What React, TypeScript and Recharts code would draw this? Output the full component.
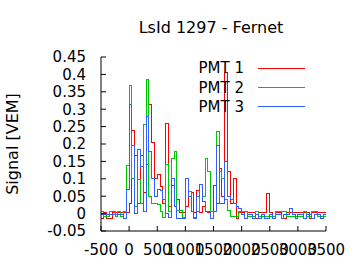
import React from 'react';
import { LineChart, Line, XAxis, YAxis, Legend } from 'recharts';

const chartTitle = 'LsId 1297 - Fernet';
const yAxisTitle = 'Signal [VEM]';
const seriesNames = ['PMT 1', 'PMT 2', 'PMT 3'];
const seriesColors = ['#ff0000', '#00c800', '#2f5fff'];

const xTicks = [-500, 0, 500, 1000, 1500, 2000, 2500, 3000, 3500];
const yTicks = [-0.05, 0, 0.05, 0.1, 0.15, 0.2, 0.25, 0.3, 0.35, 0.4, 0.45];

const binStart = [
  -500, -450, -400, -350, -300, -250, -200, -150, -100, -50,
  0, 50, 100, 150, 200, 250, 300, 350, 400, 450,
  500, 550, 600, 650, 700, 750, 800, 850, 900, 950,
  1000, 1050, 1100, 1150, 1200, 1250, 1300, 1350, 1400, 1450,
  1500, 1550, 1600, 1650, 1700, 1750, 1800, 1850, 1900, 1950,
  2000, 2050, 2100, 2150, 2200, 2250, 2300, 2350, 2400, 2450,
  2500, 2550, 2600, 2650, 2700, 2750, 2800, 2850, 2900, 2950,
  3000, 3050, 3100, 3150, 3200, 3250, 3300, 3350, 3400, 3450,
];
const traceEnd = 3500;

const pmt1 = [
  -0.015, 0.002, -0.015, -0.015, 0.002, 0.002, 0.002, 0.002, 0.002, 0.002,
  0.03, 0.24, 0.168, 0.03, 0.168, 0.06, 0.14, 0.314, 0.204, 0.1,
  0.113, 0.077, 0.03, 0.26, 0.02, 0.08, 0.02, 0.04, 0.002, 0.002,
  0.02, 0.05, 0.06, 0.002, 0.065, 0.002, 0.02, 0.005, 0.002, -0.014,
  0.08, 0.03, 0.13, 0.05, 0.405, 0.12, 0.03, 0.1, -0.013, 0.002,
  0.002, -0.013, 0.002, 0.002, 0.002, -0.013, 0.002, 0.002, 0.002, 0.058,
  0.002, -0.013, 0.002, 0.002, -0.013, -0.013, 0.002, 0.002, 0.002, 0.002,
  0.002, 0.002, 0.002, 0.002, -0.013, 0.002, 0.002, 0.002, 0.002, 0.002,
];

const pmt2 = [
  0.007, -0.009, -0.009, 0.005, 0.005, -0.009, 0.005, -0.009, 0.005, 0.138,
  0.367, 0.1, 0.02, 0.097, 0.03, 0.255, 0.386, 0.05, 0.03, 0.029,
  0.027, 0.005, -0.01, 0.14, 0.005, 0.158, 0.178, 0.01, 0.01, -0.01,
  0.1, 0.064, 0.005, -0.01, 0.005, 0.085, 0.05, 0.158, 0.12, 0.005,
  0.005, 0.235, 0.12, 0.1, 0.04, 0.01, -0.008, -0.008, -0.008, 0.007,
  0.007, 0.007, -0.008, -0.008, -0.008, 0.007, -0.008, -0.008, -0.008, -0.008,
  -0.008, -0.008, 0.007, 0.007, 0.007, 0.007, -0.008, -0.008, -0.008, -0.008,
  -0.008, -0.008, 0.007, -0.008, -0.008, 0.007, 0.007, -0.008, -0.008, -0.008,
];

const pmt3 = [
  -0.003, -0.003, -0.003, -0.003, -0.003, -0.003, -0.003, -0.003, -0.015, 0.068,
  0.314, 0.197, 0.0, 0.183, 0.135, 0.005, 0.278, 0.178, 0.1, 0.05,
  0.068, 0.067, 0.04, 0.0, -0.01, 0.1, 0.02, -0.014, -0.014, -0.014,
  0.1, 0.048, 0.005, -0.014, 0.048, 0.085, 0.035, 0.005, 0.005, -0.014,
  0.005, 0.197, 0.03, 0.03, 0.15, 0.05, 0.04, 0.03, 0.02, 0.016,
  -0.003, -0.014, -0.003, -0.003, -0.014, -0.003, -0.014, -0.003, -0.014, -0.014,
  -0.003, -0.014, -0.003, -0.003, -0.014, -0.003, -0.003, 0.015, -0.003, -0.014,
  -0.003, -0.003, -0.014, -0.003, -0.003, -0.014, -0.003, -0.003, -0.014, -0.003,
];

const series = [pmt1, pmt2, pmt3];

const data = [...binStart, traceEnd].map((t, i) => {
  const k = Math.min(i, binStart.length - 1);
  return { t, p1: pmt1[k], p2: pmt2[k], p3: pmt3[k] };
});

const FONT = '"DejaVu Sans", sans-serif';

const LegendBox = () => (
  <svg width={140} height={60} style={{ display: 'block', fontFamily: FONT }}>
    {seriesNames.map((name, i) => (
      <g key={name}>
        <text x={64} y={16.3 + i * 19.2} textAnchor="end" fontSize={15} fill="#000">
          {name}
        </text>
        <line
          x1={78}
          x2={125}
          y1={11.5 + i * 19.2}
          y2={11.5 + i * 19.2}
          stroke={seriesColors[i]}
          strokeWidth={1}
          shapeRendering="crispEdges"
        />
      </g>
    ))}
  </svg>
);

export default function App() {
  return (
    <div style={{ position: 'absolute', left: 0, top: 0, width: 360, height: 270, background: '#fff', fontFamily: FONT }}>
      <div
        style={{
          position: 'absolute',
          left: 111,
          top: 19.5,
          width: 200,
          textAlign: 'center',
          fontSize: 16,
          lineHeight: '16px',
          color: '#000',
          whiteSpace: 'nowrap',
        }}
      >
        {chartTitle}
      </div>
      <LineChart
        width={360}
        height={270}
        data={data}
        margin={{ top: 57, right: 34, bottom: 0, left: 0 }}
        style={{ fontFamily: FONT }}
      >
        <XAxis
          xAxisId="bottom"
          dataKey="t"
          type="number"
          domain={[-500, 3500]}
          ticks={xTicks}
          interval={0}
          allowDataOverflow
          height={39}
          tickSize={-5}
          tickMargin={18}
          stroke="#000"
          tick={{ fill: '#000', fontSize: 15 }}
        />
        <XAxis
          xAxisId="top"
          orientation="top"
          dataKey="t"
          type="number"
          domain={[-500, 3500]}
          ticks={xTicks}
          interval={0}
          allowDataOverflow
          height={0}
          tickSize={-5}
          tick={false}
          stroke="#000"
        />
        <YAxis
          yAxisId="left"
          type="number"
          domain={[-0.05, 0.45]}
          ticks={yTicks}
          interval={0}
          allowDataOverflow
          width={101}
          tickSize={-5}
          tickMargin={20}
          stroke="#000"
          tick={{ fill: '#000', fontSize: 15 }}
          label={{
            value: yAxisTitle,
            angle: -90,
            position: 'insideLeft',
            offset: 12,
            style: { textAnchor: 'middle', fontSize: 16, fill: '#000' },
          }}
        />
        <YAxis
          yAxisId="right"
          orientation="right"
          type="number"
          domain={[-0.05, 0.45]}
          ticks={yTicks}
          interval={0}
          allowDataOverflow
          width={0}
          tickSize={-5}
          tick={false}
          stroke="#000"
        />
        <Legend
          layout="vertical"
          align="center"
          verticalAlign="middle"
          content={() => <LegendBox />}
          wrapperStyle={{ position: 'absolute', left: 180, top: 57, width: 140, height: 60 }}
        />
        {series.map((_, i) => (
          <Line
            key={seriesNames[i]}
            xAxisId="bottom"
            yAxisId="left"
            name={seriesNames[i]}
            dataKey={`p${i + 1}`}
            type="stepAfter"
            stroke={seriesColors[i]}
            strokeWidth={1}
            dot={false}
            activeDot={false}
            isAnimationActive={false}
            shapeRendering="crispEdges"
          />
        ))}
      </LineChart>
    </div>
  );
}
